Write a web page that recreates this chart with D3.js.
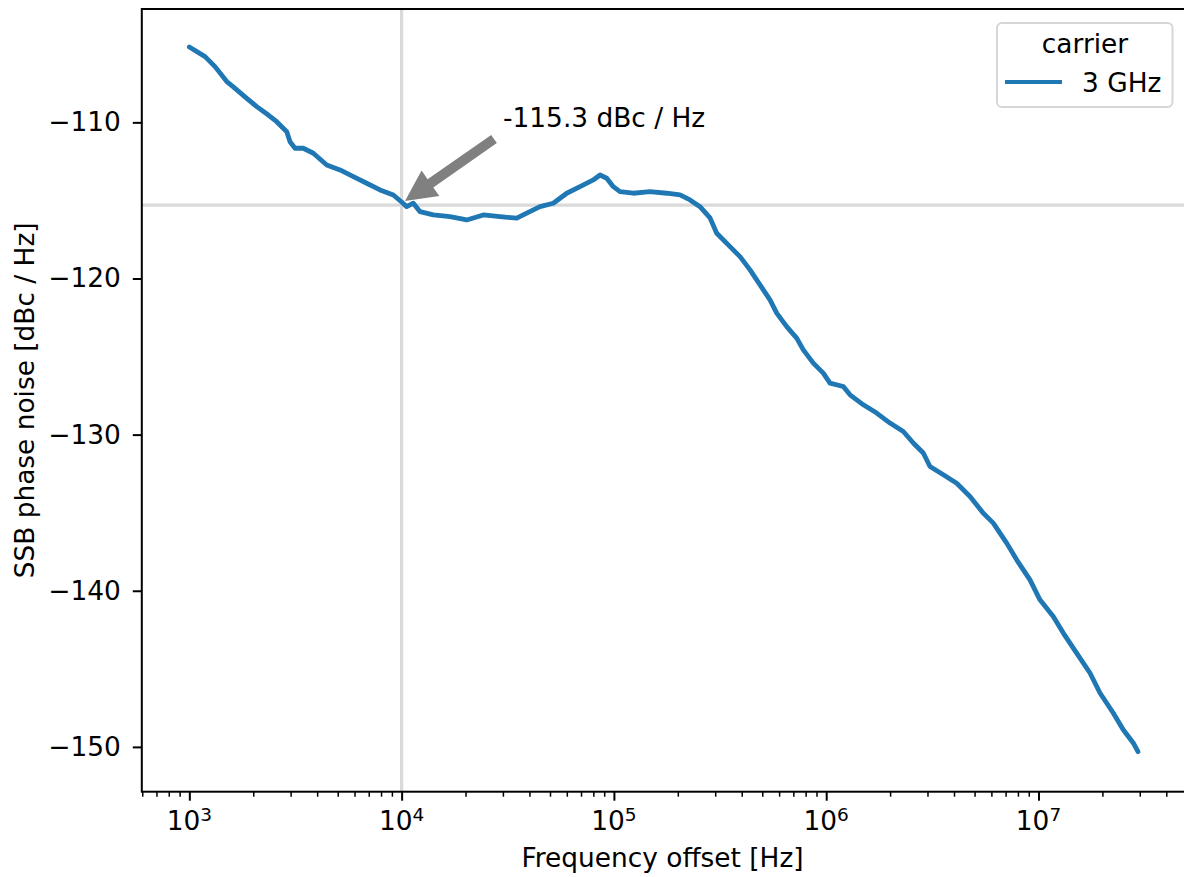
<!DOCTYPE html>
<html><head><meta charset="utf-8">
<script src="https://cdn.jsdelivr.net/npm/d3@7"></script>
<style>
html,body{margin:0;padding:0;background:#fff;overflow:hidden;}
text{font-family:"DejaVu Sans",sans-serif;fill:#000;}
</style></head>
<body><svg id="chart" width="1184" height="877"></svg>
<script>
// ---- data ----
const freqHz = [1000,1186,1321,1501,1606,1864,2077,2356,2580,2877,2981,3147,3443,3838,4438,5128,5923,6848,7912,9140,10000,10570,11354,12211,14107,16904,20262,24258,29070,34853,38855,44870,51820,59950,69230,79980,86000,92500,99360,106800,123400,147900,177300,204800,228300,254400,283600,305000,352300,392700,437700,487800,543600,584700,651600,726200,780200,869600,969000,1042000,1204000,1295000,1496000,1729000,1998000,2308000,2572000,2867000,3083000,3562000,4119000,4757000,5495000,6126000,7083000,7895000,9120000,10160000,11740000,13090000,15130000,17480000,19490000,22500000,25080000,27960000,29420000];
const ssbNoise = [-105.17,-105.79,-106.43,-107.39,-107.71,-108.46,-108.99,-109.53,-109.96,-110.60,-111.24,-111.66,-111.66,-111.98,-112.73,-113.05,-113.48,-113.90,-114.33,-114.65,-115.10,-115.40,-115.18,-115.72,-115.93,-116.04,-116.25,-115.93,-116.04,-116.14,-115.82,-115.40,-115.18,-114.54,-114.12,-113.69,-113.37,-113.58,-114.12,-114.44,-114.54,-114.44,-114.54,-114.65,-114.97,-115.40,-116.12,-117.10,-117.96,-118.60,-119.45,-120.41,-121.37,-122.22,-123.08,-123.82,-124.57,-125.42,-126.06,-126.70,-126.92,-127.45,-128.09,-128.62,-129.26,-129.80,-130.54,-131.18,-132.04,-132.57,-133.11,-133.96,-135.03,-135.67,-136.95,-138.02,-139.30,-140.58,-141.65,-142.71,-143.99,-145.27,-146.55,-147.83,-148.90,-149.75,-150.31];
const seriesName = "3 GHz";
const legendTitle = "carrier";
const markerFreq = 1e4;
const markerLevel = -115.3;
const markerLabel = "-115.3 dBc / Hz";
const yTickValues = [-110,-120,-130,-140,-150];
const xTickExponents = [3,4,5,6,7];
const xLabel = "Frequency offset [Hz]";
const yLabel = "SSB phase noise [dBc / Hz]";

// ---- layout ----
const L = 141.8, R = 1187.3, T = 9, B = 791.7;
const svg = d3.select("#chart");
const x = d3.scaleLog().domain([Math.pow(10,2.7761), Math.pow(10,7.701)]).range([L, R]);
const y = d3.scaleLinear().domain([-152.87, -102.74]).range([B, T]);
const FS = 26.4;

// reference lines
svg.append("line").attr("x1", x(markerFreq)).attr("x2", x(markerFreq)).attr("y1", T).attr("y2", B)
  .attr("stroke", "#dadada").attr("stroke-width", 3.2);
svg.append("line").attr("x1", L).attr("x2", R).attr("y1", y(markerLevel)).attr("y2", y(markerLevel))
  .attr("stroke", "#dadada").attr("stroke-width", 3.2);

// curve
const pts = freqHz.map((f,i)=>[f, ssbNoise[i]]);
svg.append("path").datum(pts)
  .attr("fill","none").attr("stroke","#1f77b4").attr("stroke-width",4.8)
  .attr("stroke-linejoin","round").attr("stroke-linecap","round")
  .attr("d", d3.line().x(d=>x(d[0])).y(d=>y(d[1])));

// x axis major
const majors = xTickExponents.map(e=>Math.pow(10,e));
const minors = [];
for (let e=2; e<=7; e++) for (let m=2; m<=9; m++) { const v=m*Math.pow(10,e); if (v>=x.domain()[0]*0.999 && v<=x.domain()[1]) minors.push(v); }
const gx = svg.append("g").attr("transform",`translate(0,${B})`);
gx.call(d3.axisBottom(x).tickValues(majors).tickSize(9).tickFormat(""));
const gxm = svg.append("g").attr("transform",`translate(0,${B})`);
gxm.call(d3.axisBottom(x).tickValues(minors).tickSize(5).tickFormat(""));
[gx,gxm].forEach(g=>{g.select(".domain").remove();});
gx.selectAll(".tick line").attr("stroke","#000").attr("stroke-width",2);
gxm.selectAll(".tick line").attr("stroke","#000").attr("stroke-width",1.5);
xTickExponents.forEach(e=>{
  const t = svg.append("text").attr("x", x(Math.pow(10,e))).attr("y", 830).attr("text-anchor","middle").style("font-size",FS+"px");
  t.append("tspan").text("10");
  t.append("tspan").attr("dy",-9).style("font-size","18.5px").text(String(e));
});

// y axis
const gy = svg.append("g").attr("transform",`translate(${L},0)`);
gy.call(d3.axisLeft(y).tickValues(yTickValues).tickSize(9).tickPadding(12).tickFormat(d=>"\u2212"+Math.abs(d)));
gy.select(".domain").remove();
gy.selectAll(".tick line").attr("stroke","#000").attr("stroke-width",2);
gy.selectAll(".tick text").style("font-size",FS+"px").style("font-family","DejaVu Sans").attr("fill","#000");

// spines
svg.append("rect").attr("x",L).attr("y",T).attr("width",R-L).attr("height",B-T)
  .attr("fill","none").attr("stroke","#000").attr("stroke-width",2);

// axis labels
svg.append("text").attr("x",(L+R)/2 - 2).attr("y",867).attr("text-anchor","middle").style("font-size",FS+"px").text(xLabel);
svg.append("text").attr("transform",`translate(34,${(T+B)/2}) rotate(-90)`).attr("text-anchor","middle").style("font-size",FS+"px").text(yLabel);

// annotation
svg.append("text").attr("x",503).attr("y",127).style("font-size",FS+"px").text(markerLabel);
(function(){
  const tip=[405,201], tail=[494,139];
  const dx=tail[0]-tip[0], dy=tail[1]-tip[1], len=Math.hypot(dx,dy);
  const ux=dx/len, uy=dy/len, nx=-uy, ny=ux;
  const hl=31, hw=15.5, sw=5;
  const bx=tip[0]+ux*hl, by=tip[1]+uy*hl;
  const P=[[tip[0],tip[1]],[bx+nx*hw,by+ny*hw],[bx+nx*sw,by+ny*sw],[tail[0]+nx*sw,tail[1]+ny*sw],
           [tail[0]-nx*sw,tail[1]-ny*sw],[bx-nx*sw,by-ny*sw],[bx-nx*hw,by-ny*hw]];
  svg.append("polygon").attr("points",P.map(p=>p.join(",")).join(" ")).attr("fill","#808080");
})();

// legend
svg.append("rect").attr("x",997).attr("y",23).attr("width",175.5).attr("height",84).attr("rx",5)
  .attr("fill","#fff").attr("fill-opacity",0.8).attr("stroke","#d6d6d6").attr("stroke-width",2);
svg.append("text").attr("x",1085).attr("y",53).attr("text-anchor","middle").style("font-size",FS+"px").text(legendTitle);
svg.append("line").attr("x1",1005).attr("x2",1062).attr("y1",82).attr("y2",82).attr("stroke","#1f77b4").attr("stroke-width",3.9);
svg.append("text").attr("x",1082).attr("y",92).style("font-size",FS+"px").text(seriesName);
</script></body></html>
